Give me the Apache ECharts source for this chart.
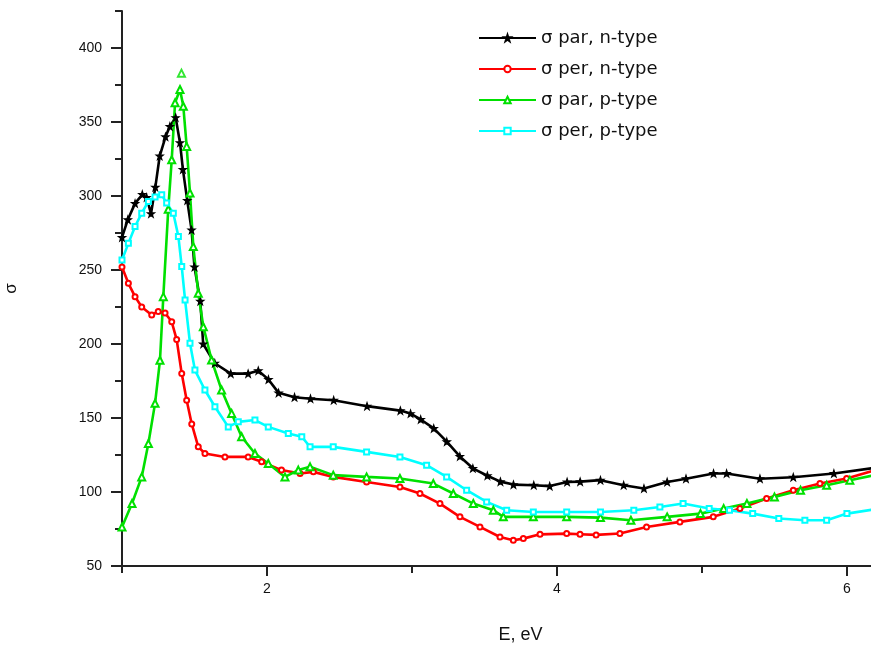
<!DOCTYPE html>
<html>
<head>
<meta charset="utf-8">
<script src="https://cdn.jsdelivr.net/npm/echarts@6/dist/echarts.min.js"></script>
<style>html,body{margin:0;padding:0;background:#fff;}#c{width:871px;height:650px;}</style>
</head>
<body>
<div id="c"></div>
<script>
// ---- data ----
const seriesNames = ['σ par, n-type', 'σ per, n-type', 'σ par, p-type', 'σ per, p-type'];

const parN_E = [1.00,1.04,1.09,1.14,1.17,1.20,1.23,1.26,1.30,1.33,1.37,1.40,1.42,1.45,1.48,1.50,1.54,1.56,1.64,1.75,1.87,1.94,2.01,2.08,2.19,2.30,2.46,2.69,2.92,2.99,3.06,3.15,3.24,3.33,3.42,3.52,3.61,3.70,3.84,3.95,4.07,4.16,4.30,4.46,4.60,4.76,4.89,5.08,5.17,5.40,5.63,5.91,6.17];
const parN_S = [272,284,295,301,299,288,306,327,340,347,353,336,318,297,277,252,229,200,187,180,180,182,176,167,164,163,162,158,155,153,149,143,134,124,116,111,107,105,104.6,104,106.8,107,108,104.6,102.4,106.8,109,112.5,112.5,109,110,112.5,116];

const perN_E = [1.00,1.044,1.09,1.136,1.205,1.25,1.297,1.343,1.377,1.412,1.446,1.481,1.526,1.572,1.71,1.87,1.963,2.10,2.228,2.32,2.457,2.687,2.917,3.055,3.193,3.331,3.469,3.607,3.699,3.768,3.883,4.067,4.159,4.27,4.434,4.618,4.848,5.078,5.262,5.446,5.63,5.814,5.998,6.17];
const perN_S = [252,241,232,225,219.6,222,221,215,203,180,162,146,130.5,126,123.7,123.7,120.4,114.8,112.5,113.6,110.2,106.8,103.4,99,92.2,83.2,76.4,69.6,67.4,68.5,71.4,71.9,71.5,71,72,76.4,79.8,83.2,88.8,95.6,101.2,105.7,109.1,114];

const parP_E = [1.00,1.069,1.136,1.182,1.228,1.262,1.285,1.319,1.343,1.366,1.40,1.423,1.446,1.469,1.492,1.526,1.561,1.618,1.687,1.756,1.825,1.917,2.009,2.124,2.216,2.297,2.457,2.687,2.917,3.147,3.285,3.423,3.561,3.63,3.837,4.067,4.30,4.51,4.76,4.99,5.15,5.31,5.50,5.68,5.86,6.02,6.17];
const parP_S = [76.4,92.2,110.2,132.8,159.9,189,232,291,324.5,363,372,360.6,333.5,302,265.8,234.3,211.7,189.2,168.9,153.1,137.3,126,119.3,110.2,114.8,117,111.4,110.2,109.1,105.7,99,92.2,87.7,83.2,83.2,83.2,82.7,80.9,83.2,85.4,88.8,92.2,96.7,101.2,104.6,108,111];
const parP_strayE = [1.41];
const parP_strayS = [383];

const perP_E = [1.00,1.044,1.09,1.136,1.182,1.228,1.274,1.308,1.354,1.389,1.412,1.435,1.469,1.503,1.572,1.641,1.733,1.802,1.917,2.009,2.147,2.24,2.297,2.457,2.687,2.917,3.101,3.239,3.377,3.515,3.653,3.837,4.067,4.30,4.53,4.71,4.87,5.05,5.19,5.35,5.53,5.71,5.86,6.00,6.17];
const perP_S = [256.8,268,279.4,288.4,296.3,299.3,300.8,295.2,288.4,272.6,252.3,229.8,200.5,182.4,168.9,157.6,144,147.4,148.6,144,139.6,137.3,130.5,130.5,127.1,123.7,118.1,110.2,101.2,93.3,87.7,86.5,86.5,86.5,87.7,89.9,92.2,88.8,87.7,85.4,82.1,80.9,80.9,85.4,88];

const xMajorTicks = [2, 4, 6];
const xMinorTicks = [1, 3, 5];
const yMajorTicks = [50, 100, 150, 200, 250, 300, 350, 400];
const yMinorTicks = [75, 125, 175, 225, 275, 325, 375, 425];

// ---- chart ----
const pairs = (xs, ys) => xs.map((x, i) => [x, ys[i]]);
const star = 'path://M0,-10 L2.4,-3.1 L9.5,-3.1 L3.8,1.2 L5.9,8.1 L0,3.9 L-5.9,8.1 L-3.8,1.2 L-9.5,-3.1 L-2.4,-3.1 Z';
const axisCol = '#222';
const font = 'Liberation Sans, Arial, sans-serif';

const chart = echarts.init(document.getElementById('c'), null, {renderer: 'canvas'});
const lineSeries = (name, data, color, symbol, size) => ({
  name, type: 'line', data, xAxisIndex: 0, yAxisIndex: 0,
  symbol, symbolSize: size, showSymbol: true,
  lineStyle: {color, width: 2.6},
  itemStyle: {color, borderColor: color, borderWidth: 1.2},
  z: 3
});

chart.setOption({
  animation: false,
  backgroundColor: '#fff',
  grid: {left: 122, right: 0, top: 11, bottom: 84, containLabel: false, outerBoundsMode: 'none'},
  legend: {
    orient: 'vertical', left: 478, top: 29, padding: 0,
    itemWidth: 57, itemHeight: 8, itemGap: 13,
    textStyle: {fontFamily: 'DejaVu Sans, sans-serif', fontSize: 18, color: '#111', lineHeight: 18},
    data: seriesNames
  },
  xAxis: [{
    type: 'value', min: 1, max: 6.166, position: 'bottom',
    axisLine: {show: true, onZero: false, lineStyle: {color: axisCol, width: 2}},
    axisTick: {show: true, customValues: xMajorTicks, length: 10, lineStyle: {color: axisCol, width: 2}},
    axisLabel: {customValues: xMajorTicks, margin: 16, color: '#111', fontFamily: font, fontSize: 14},
    splitLine: {show: false},
    name: 'E, eV', nameLocation: 'middle', nameGap: 60,
    nameTextStyle: {fontFamily: font, fontSize: 18, color: '#111', padding: [0, 0, 0, 48]}
  }, {
    type: 'value', min: 1, max: 6.166, position: 'bottom',
    axisLine: {show: false, onZero: false},
    axisTick: {show: true, customValues: xMinorTicks, length: 7, lineStyle: {color: axisCol, width: 2}},
    axisLabel: {show: false},
    splitLine: {show: false}
  }],
  yAxis: [{
    type: 'value', min: 50, max: 425, position: 'left',
    axisLine: {show: true, onZero: false, lineStyle: {color: axisCol, width: 2}},
    axisTick: {show: true, customValues: yMajorTicks, length: 11, lineStyle: {color: axisCol, width: 2}},
    axisLabel: {customValues: yMajorTicks, margin: 20, color: '#111', fontFamily: font, fontSize: 14},
    splitLine: {show: false},
    name: 'σ', nameLocation: 'middle', nameGap: 102, nameRotate: 90,
    nameTextStyle: {fontFamily: font, fontSize: 17, color: '#111'}
  }, {
    type: 'value', min: 50, max: 425, position: 'left',
    axisLine: {show: false, onZero: false},
    axisTick: {show: true, customValues: yMinorTicks, length: 7, lineStyle: {color: axisCol, width: 2}},
    axisLabel: {show: false},
    splitLine: {show: false}
  }],
  series: [
    lineSeries(seriesNames[0], pairs(parN_E, parN_S), '#000000', star, 7),
    lineSeries(seriesNames[1], pairs(perN_E, perN_S), '#ff0000', 'emptyCircle', 5),
    lineSeries(seriesNames[2], pairs(parP_E, parP_S), '#00e000', 'emptyTriangle', 7),
    lineSeries(seriesNames[3], pairs(perP_E, perP_S), '#00ffff', 'emptyRect', 5),
    {
      name: 'stray', type: 'scatter', data: pairs(parP_strayE, parP_strayS),
      symbol: 'emptyTriangle', symbolSize: 7,
      itemStyle: {color: '#00e000', borderColor: '#00e000', borderWidth: 1.2}
    }
  ]
});
</script>
</body>
</html>
